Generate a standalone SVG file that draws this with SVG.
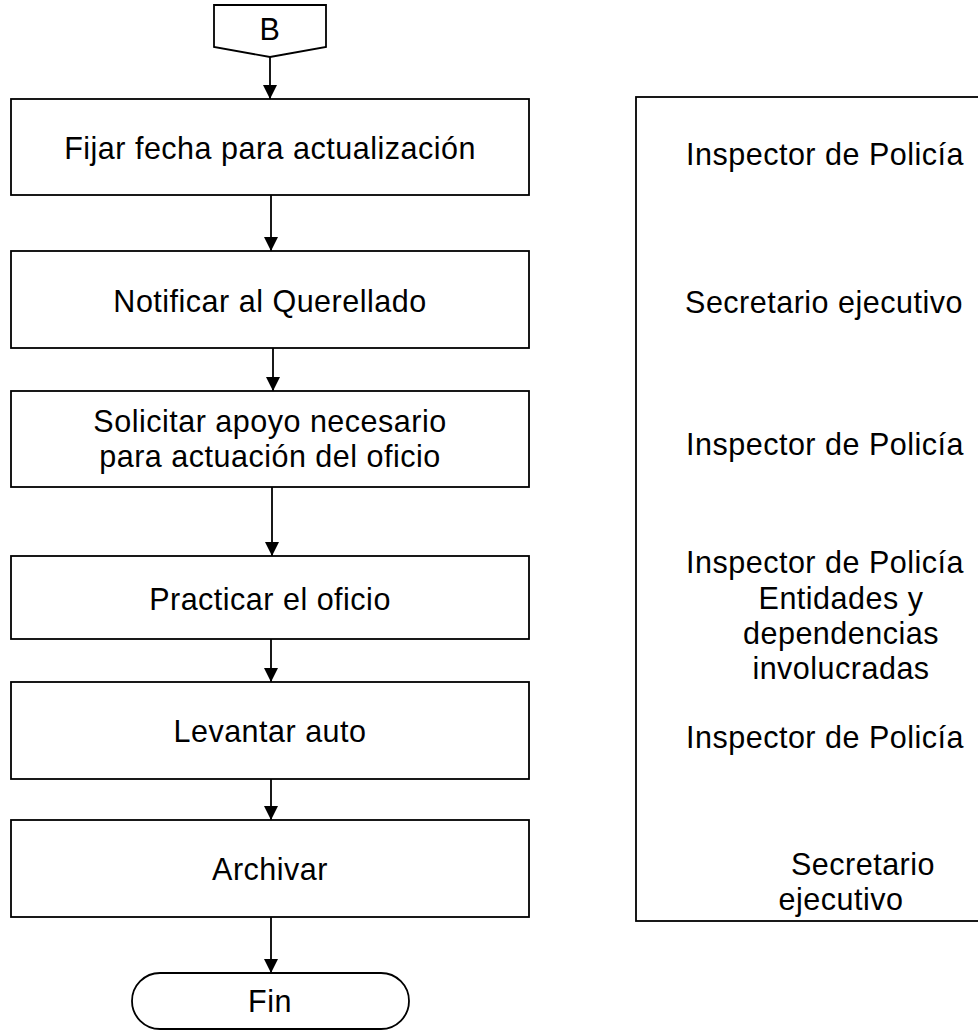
<svg xmlns="http://www.w3.org/2000/svg" width="978" height="1030" viewBox="0 0 978 1030">
<defs>
<marker id="ah" viewBox="0 0 14 14" refX="14" refY="7" markerWidth="14" markerHeight="15" markerUnits="userSpaceOnUse" orient="auto">
<path d="M0,0 L14,7 L0,14 Z" fill="#000"/>
</marker>
<style>
.box{fill:#fff;stroke:#000;stroke-width:1.8}
.t{font-family:"Liberation Sans",Arial,sans-serif;font-size:30.5px;letter-spacing:0.5px;fill:#000;text-anchor:middle}
.c{stroke:#000;stroke-width:1.8;fill:none;marker-end:url(#ah)}
</style>
</defs>
<rect width="978" height="1030" fill="#fff"/>
<g id="connectors">
<line class="c" x1="270" y1="57" x2="270" y2="99"/>
<line class="c" x1="271" y1="195" x2="271" y2="251"/>
<line class="c" x1="273" y1="348" x2="273" y2="391"/>
<line class="c" x1="272" y1="487" x2="272" y2="556"/>
<line class="c" x1="271" y1="639" x2="271" y2="682"/>
<line class="c" x1="271" y1="779" x2="271" y2="820"/>
<line class="c" x1="271" y1="917" x2="271" y2="973"/>
</g>
<g id="nodeB">
<path class="box" d="M214,5 H326 V47 L270,57 L214,47 Z"/>
<text class="t" x="270" y="40">B</text>
</g>
<g id="node1">
<rect class="box" x="11" y="99" width="518" height="96"/>
<text class="t" x="270" y="159">Fijar fecha para actualización</text>
</g>
<g id="node2">
<rect class="box" x="11" y="251" width="518" height="97"/>
<text class="t" x="270" y="312">Notificar al Querellado</text>
</g>
<g id="node3">
<rect class="box" x="11" y="391" width="518" height="96"/>
<text class="t" x="270" y="432">Solicitar apoyo necesario</text>
<text class="t" x="270" y="467">para actuación del oficio</text>
</g>
<g id="node4">
<rect class="box" x="11" y="556" width="518" height="83"/>
<text class="t" x="270" y="610">Practicar el oficio</text>
</g>
<g id="node5">
<rect class="box" x="11" y="682" width="518" height="97"/>
<text class="t" x="270" y="742">Levantar auto</text>
</g>
<g id="node6">
<rect class="box" x="11" y="820" width="518" height="97"/>
<text class="t" x="270" y="880">Archivar</text>
</g>
<g id="nodeFin">
<rect class="box" x="132" y="973" width="277" height="56" rx="28" ry="28"/>
<text class="t" x="270" y="1012">Fin</text>
</g>
<g id="responsables">
<rect class="box" x="636" y="97" width="360" height="824"/>
<text class="t" x="825" y="165">Inspector de Policía</text>
<text class="t" x="824" y="313">Secretario ejecutivo</text>
<text class="t" x="825" y="455">Inspector de Policía</text>
<text class="t" x="825" y="573">Inspector de Policía</text>
<text class="t" x="841" y="609">Entidades y</text>
<text class="t" x="841" y="644">dependencias</text>
<text class="t" x="841" y="679">involucradas</text>
<text class="t" x="825" y="748">Inspector de Policía</text>
<text class="t" x="863" y="875">Secretario</text>
<text class="t" x="841" y="910">ejecutivo</text>
</g>
</svg>
